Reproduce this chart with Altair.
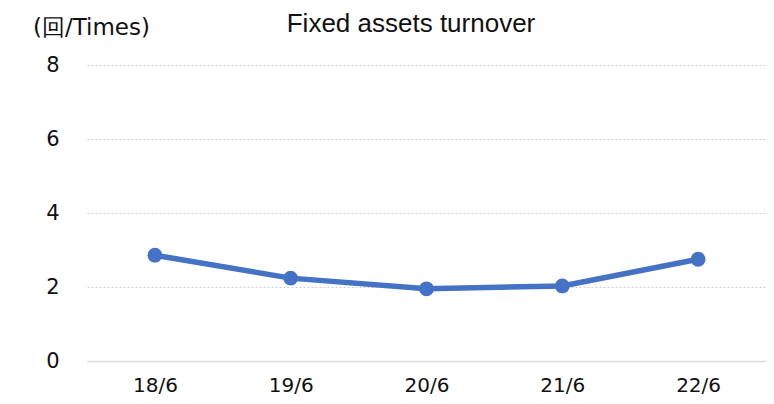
import altair as alt
import pandas as pd

title_text = "Fixed assets turnover"
categories = ["18/6", "19/6", "20/6", "21/6", "22/6"]
values = [2.86, 2.24, 1.95, 2.03, 2.75]
y_ticks = [0, 2, 4, 6, 8]

df = pd.DataFrame({"period": categories, "turnover": values})
df_title = pd.DataFrame({"t": [title_text]})

x_enc = alt.X(
    "period:N",
    sort=categories,
    title=None,
    axis=alt.Axis(
        labelAngle=0, ticks=False, domain=True, domainColor="#d9d9d9", domainWidth=1.3,
        labelFont="DejaVu Sans", labelFontSize=20, labelColor="#111111", labelPadding=14,
        grid=False,
    ),
)
y_enc = alt.Y(
    "turnover:Q",
    scale=alt.Scale(domain=[0, 8], nice=False),
    axis=alt.Axis(
        values=y_ticks, domain=False, ticks=False, grid=True,
        gridDash=[2, 2], gridColor="#cfcfcf", gridWidth=1,
        labelFont="DejaVu Sans", labelFontSize=21, labelColor="#111111", labelPadding=28,
        title="(回/Times)", titleAngle=0, titleX=4, titleY=-38,
        titleAlign="center", titleBaseline="middle",
        titleFont="DejaVu Sans", titleFontSize=23, titleFontWeight="normal", titleColor="#111111",
    ),
)

base = alt.Chart(df).encode(x=x_enc, y=y_enc)
line = base.mark_line(color="#4472C4", strokeWidth=5.5)
pts = base.mark_circle(color="#4472C4", size=220, opacity=1)
title = alt.Chart(df_title).mark_text(
    font="Liberation Sans", fontSize=26, color="#111111", align="center", baseline="alphabetic"
).encode(text="t:N", x=alt.value(324), y=alt.value(-33))

chart = (
    alt.layer(line, pts, title)
    .properties(
        width=679,
        height=296,
        autosize=alt.AutoSizeParams(type="none"),
        padding={"left": 79, "top": 57, "right": 0, "bottom": 35},
    )
    .configure_view(stroke=None)
)

chart.save("out.html", embed_options={"renderer": "svg", "actions": False})
